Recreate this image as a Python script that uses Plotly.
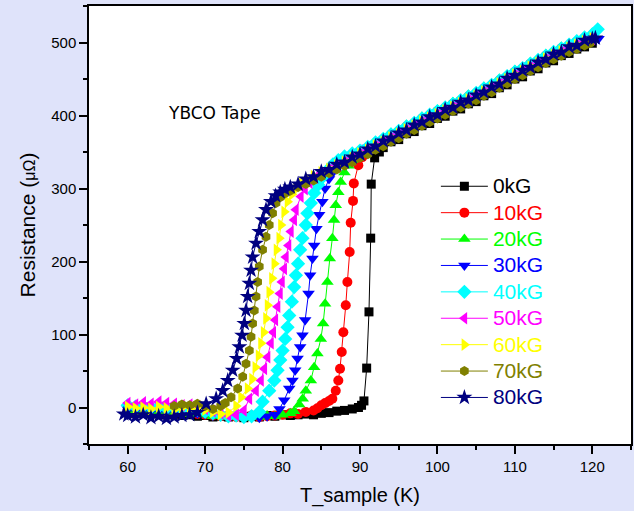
import plotly.graph_objects as go

# ---------------- data ----------------
series_names = ["0kG", "10kG", "20kG", "30kG", "40kG", "50kG", "60kG", "70kG", "80kG"]
series_colors = ["#000000", "#ff0000", "#00ff00", "#0000ff", "#00ffff",
                 "#ff00ff", "#ffff00", "#808000", "#000080"]
series_symbols = ["square", "circle", "triangle-up", "triangle-down", "diamond",
                  "triangle-left", "triangle-right", "hexagon", "star"]
series_sizes = [9, 10, 11, 11, 11, 11, 11, 10, 12]

t_0kG = [60, 61, 62, 63, 64, 65, 66, 67, 68, 69, 70, 71, 72, 73, 74, 75, 76, 77, 78, 79,
         80, 81, 82, 83, 84, 85, 86, 87, 88, 89,
         89.8, 90.2, 90.51, 90.86, 91.16, 91.38, 91.45, 91.89, 92.5,
         93, 94, 95, 96, 97, 98, 99, 100, 101, 102, 103, 104, 105, 106, 107, 108, 109, 110,
         111, 112, 113, 114, 115, 116, 117, 118, 119, 120]
r_0kG = [-7, -8, -6, -9, -8, -10, -9, -11, -10, -12, -11, -13, -12, -13, -12, -14, -12, -13, -11, -12,
         -10, -11, -10, -9, -10, -8, -7, -5, -4, -2,
         0, 3, 9, 54, 131, 232, 306, 342, 350,
         356, 364, 367, 375, 378, 386, 389, 396, 399, 406, 409, 416, 419, 427, 430, 438, 442, 450,
         453, 461, 464, 472, 475, 482, 485, 491, 494, 499]

t_10kG = [60, 61, 62, 63, 64, 65, 66, 67, 68, 69, 70, 71, 72, 73, 74, 75, 76, 77, 78, 79,
          80, 81, 82, 83, 84,
          84.5, 85, 85.5, 86, 86.43, 86.87, 87.2, 87.42, 87.64, 87.85, 88.16, 88.37, 88.67, 88.8,
          89.1, 89.2, 89.78, 90.3, 91, 92,
          93, 94, 95, 96, 97, 98, 99, 100, 101, 102, 103, 104, 105, 106, 107, 108, 109, 110,
          111, 112, 113, 114, 115, 116, 117, 118, 119, 120]
r_10kG = [-3, -5, -4, -6, -5, -7, -6, -8, -7, -9, -10, -11, -12, -11, -13, -12, -11, -13, -12, -11,
          -10, -8, -9, -6, -4,
          -1, 3, 6, 9, 12, 23, 37, 53, 76, 103, 140, 172, 213, 253,
          283, 307, 332, 343, 352, 360,
          367, 374, 378, 385, 389, 396, 400, 406, 410, 416, 420, 426, 430, 437, 441, 448, 453, 460,
          464, 471, 475, 482, 486, 492, 496, 501, 505, 510]

t_20kG = [60, 61, 62, 63, 64, 65, 66, 67, 68, 69, 70, 71, 72, 73, 74, 75, 76, 77, 78, 79, 80,
          81, 81.5, 82.15, 82.6, 83.0, 83.65, 84.08, 84.5, 84.94, 85.24, 85.49, 85.79, 86.1, 86.43,
          86.65, 86.87, 87.2, 87.51, 88, 88.5, 89, 89.5, 90, 91,
          92, 93, 94, 95, 96, 97, 98, 99, 100, 101, 102, 103, 104, 105, 106, 107, 108, 109, 110,
          111, 112, 113, 114, 115, 116, 117, 118, 119, 120]
r_20kG = [-5, -4, -6, -5, -7, -6, -8, -7, -9, -8, -10, -12, -11, -13, -12, -14, -12, -13, -11, -12, -10,
          -8, -5, 4, 12, 23, 37, 55, 74, 94, 115, 142, 172, 204, 232,
          257, 277, 295, 309, 322, 331, 339, 346, 352, 358,
          364, 369, 376, 380, 387, 391, 398, 402, 408, 412, 418, 422, 428, 432, 439, 443, 450, 455, 462,
          466, 473, 477, 484, 488, 494, 498, 503, 507, 513]

t_30kG = [60, 61, 62, 63, 64, 65, 66, 67, 68, 69, 70, 71, 72, 73, 74, 75, 76, 77, 78, 79,
          79.6, 80.21, 80.86, 81.28, 81.63, 81.93, 82.27, 82.57, 82.92, 83.35, 83.56, 83.86,
          84.08, 84.37, 84.72, 85.14, 85.49, 86, 86.5, 87, 87.5, 88, 89,
          90, 91, 92, 93, 94, 95, 96, 97, 98, 99, 100, 101, 102, 103, 104, 105, 106, 107, 108,
          109, 110, 111, 112, 113, 114, 115, 116, 117, 118, 119, 120, 120.8]
r_30kG = [-2, -4, -3, -5, -4, -6, -5, -7, -6, -8, -9, -11, -10, -12, -11, -13, -12, -14, -12, -10,
          -2, 10, 26, 37, 51, 67, 83, 99, 120, 156, 181, 204,
          222, 245, 264, 282, 300, 313, 322, 330, 335, 340, 345,
          350, 356, 361, 366, 372, 377, 383, 388, 394, 399, 404, 409, 414, 419, 424, 429, 435, 440, 446,
          452, 458, 463, 469, 474, 480, 485, 490, 495, 499, 504, 507, 505]

t_40kG = [60, 61, 62, 63, 64, 65, 66, 67, 68, 69, 70, 71, 72, 73, 74, 75, 76,
          77, 77.42, 78.28, 78.93, 79.35, 79.7, 80.0, 80.34, 80.64, 80.86, 81.2, 81.5, 81.72,
          82.0, 82.27, 82.57, 83.0, 83.21, 83.65, 84.08, 84.6, 85.2, 85.8, 86.5, 87.2, 88,
          89, 90, 91, 92, 93, 94, 95, 96, 97, 98, 99, 100, 101, 102, 103, 104, 105, 106, 107,
          108, 109, 110, 111, 112, 113, 114, 115, 116, 117, 118, 119, 120, 120.7]
r_40kG = [3, 1, 2, 0, 1, -1, 0, -2, -1, -3, -6, -8, -10, -12, -11, -13, -12,
          -6, 8, 23, 37, 51, 65, 78, 94, 110, 126, 145, 165, 181,
          197, 216, 232, 250, 266, 280, 294, 305, 316, 325, 333, 339, 344,
          348, 352, 357, 363, 368, 374, 379, 385, 390, 396, 401, 406, 411, 416, 421, 426, 431, 437, 442,
          448, 454, 460, 465, 471, 476, 482, 487, 492, 497, 502, 507, 511, 518]

t_50kG = [60, 61, 62, 63, 64, 65, 66, 67, 68, 69, 70, 71, 72, 73, 74,
          75, 75.71, 76.57, 77.21, 77.64, 78.06, 78.5, 78.8, 79.06, 79.35, 79.66, 79.92,
          80.21, 80.43, 80.77, 81.07, 81.5, 81.72, 82.36, 82.9, 83.5, 84.2, 85, 86,
          87, 88, 89, 90, 91, 92, 93, 94, 95, 96, 97, 98, 99, 100, 101, 102, 103, 104, 105,
          106, 107, 108, 109, 110, 111, 112, 113, 114, 115, 116, 117, 118, 119, 120]
r_50kG = [6, 4, 7, 5, 8, 6, 5, 3, 4, 2, -2, -5, -8, -11, -10,
          -4, 12, 23, 37, 53, 69, 88, 103, 120, 138, 156, 172,
          190, 206, 222, 241, 257, 271, 289, 299, 308, 315, 321, 326,
          331, 336, 341, 347, 352, 358, 363, 369, 374, 380, 385, 391, 396, 401, 406, 411, 416, 421, 426,
          432, 437, 443, 449, 455, 460, 466, 471, 477, 482, 487, 492, 496, 501, 505]

t_60kG = [60, 61, 62, 63, 64, 65, 66, 67, 68, 69, 70, 71, 72, 73,
          74, 74.64, 75.49, 76.06, 76.48, 76.9, 77.21, 77.55, 77.86, 78.06, 78.28, 78.63,
          78.93, 79.22, 79.57, 79.79, 80.21, 80.64, 81.2, 81.8, 82.5, 83.3, 84,
          85, 86, 87, 88, 89, 90, 91, 92, 93, 94, 95, 96, 97, 98, 99, 100, 101, 102, 103,
          104, 105, 106, 107, 108, 109, 110, 111, 112, 113, 114, 115, 116, 117, 118, 119, 120]
r_60kG = [1, -1, 0, -2, 1, -1, -3, 0, -2, -1, -3, -6, -9, -7,
          2, 14, 26, 39, 55, 71, 88, 103, 122, 140, 158, 177,
          197, 216, 232, 250, 268, 282, 292, 300, 307, 313, 317,
          322, 327, 332, 337, 342, 348, 353, 359, 364, 370, 375, 381, 386, 392, 397, 402, 407, 412, 417,
          422, 427, 433, 438, 444, 450, 456, 461, 467, 472, 478, 483, 488, 493, 497, 502, 506]

t_70kG = [66, 67, 68, 69, 70, 71,
          72, 72.6, 73.35, 74.2, 74.85, 75.28, 75.71, 75.93, 76.13, 76.35, 76.57, 76.78,
          76.99, 77.42, 77.86, 78.28, 78.71, 79.15, 79.7, 80.3, 81, 82,
          83, 84, 85, 86, 87, 88, 89, 90, 91, 92, 93, 94, 95, 96, 97, 98, 99, 100, 101,
          102, 103, 104, 105, 106, 107, 108, 109, 110, 111, 112, 113, 114, 115, 116, 117,
          118, 119, 119.7]
r_70kG = [2, 4, 3, 5, 2, -2,
          2, 6, 14, 26, 42, 60, 78, 97, 115, 133, 152, 172,
          193, 216, 234, 250, 266, 280, 288, 293, 297, 302,
          306, 311, 316, 321, 326, 331, 336, 342, 347, 353, 358, 364, 369, 375, 380, 386, 391, 396, 401,
          406, 411, 416, 421, 427, 432, 438, 444, 450, 455, 461, 466, 472, 477, 482, 487,
          491, 496, 499]

t_80kG = [59.5, 60, 61, 62, 63, 64, 65, 66, 67, 68, 69,
          70.13, 71.42, 72.27, 72.92, 73.56, 74.07, 74.42, 74.77, 75.06, 75.28, 75.49, 75.71,
          75.93, 76.13, 76.57, 76.99, 77.42, 77.86, 78.5, 79.1, 79.7, 80.3, 81,
          82, 83, 84, 85, 86, 87, 88, 89, 90, 91, 92, 93, 94, 95, 96, 97, 98, 99, 100,
          101, 102, 103, 104, 105, 106, 107, 108, 109, 110, 111, 112, 113, 114, 115, 116,
          117, 118, 119, 120, 120.4]
r_80kG = [-9, -11, -13, -10, -14, -12, -15, -13, -11, -10, -7,
          5, 12, 23, 37, 51, 67, 83, 99, 115, 133, 152, 170,
          188, 206, 225, 241, 257, 271, 282, 290, 295, 299, 302,
          306, 313, 316, 323, 326, 333, 336, 343, 347, 354, 358, 365, 369, 376, 380, 387, 391, 398, 401,
          408, 411, 418, 421, 428, 432, 439, 443, 451, 455, 462, 466, 473, 477, 484, 487,
          494, 496, 503, 505, 506]

series_t = [t_0kG, t_10kG, t_20kG, t_30kG, t_40kG, t_50kG, t_60kG, t_70kG, t_80kG]
series_r = [r_0kG, r_10kG, r_20kG, r_30kG, r_40kG, r_50kG, r_60kG, r_70kG, r_80kG]

for nm, tt, rr in zip(series_names, series_t, series_r):
    if len(tt) != len(rr):
        raise ValueError(f"{nm}: {len(tt)} T values vs {len(rr)} R values")

x_ticks = [60, 70, 80, 90, 100, 110, 120]
y_ticks = [0, 100, 200, 300, 400, 500]

# ---------------- figure ----------------
fig = go.Figure()
for nm, tt, rr, col, sym, sz in zip(series_names, series_t, series_r,
                                     series_colors, series_symbols, series_sizes):
    fig.add_trace(go.Scatter(
        x=tt, y=rr, mode="lines+markers",
        name=f"<span style='color:{col};font-size:21px'>{nm}</span>",
        line=dict(color=col, width=1),
        marker=dict(symbol=sym, size=sz, color=col, line=dict(width=0)),
    ))

fig.add_annotation(x=71.2, y=404, text="YBCO Tape", showarrow=False,
                   font=dict(family="DejaVu Sans", size=17, color="black"))

axis_common = dict(
    showgrid=False, zeroline=False, showline=True, linecolor="black", linewidth=1.5,
    mirror=True, ticks="outside", ticklen=8, tickwidth=1.5, tickcolor="black",
    tickfont=dict(family="Arial, Liberation Sans", size=15, color="black"),
)
fig.update_xaxes(
    range=[55, 125], tickmode="array", tickvals=x_ticks, ticktext=[str(v) for v in x_ticks],
    minor=dict(dtick=5, tick0=55, ticks="outside", ticklen=4, tickwidth=1.5, tickcolor="black"),
    title=dict(text="T_sample (K)", font=dict(family="Arial, Liberation Sans", size=20, color="black"),
               standoff=14),
    **axis_common)
fig.update_yaxes(
    range=[-50, 550], tickmode="array", tickvals=y_ticks, ticktext=[str(v) for v in y_ticks],
    minor=dict(dtick=50, tick0=-50, ticks="outside", ticklen=4, tickwidth=1.5, tickcolor="black"),
    title=dict(text="Resistance (<span style='font-size:16px'>μΩ</span>)",
               font=dict(family="Arial, Liberation Sans", size=21, color="black"), standoff=10),
    **axis_common)

fig.update_layout(
    width=634, height=511,
    margin=dict(l=89, r=1, t=6, b=67),
    paper_bgcolor="#dfe3fa", plot_bgcolor="white",
    showlegend=True,
    legend=dict(x=0.64, y=0.63, xanchor="left", yanchor="top",
                bgcolor="rgba(0,0,0,0)", borderwidth=0, itemwidth=47,
                font=dict(family="Arial, Liberation Sans", size=18, color="black"),
                tracegroupgap=0),
)

fig.write_html("out.html", config={"displayModeBar": False},
               post_script="document.body.style.margin='0px';")
